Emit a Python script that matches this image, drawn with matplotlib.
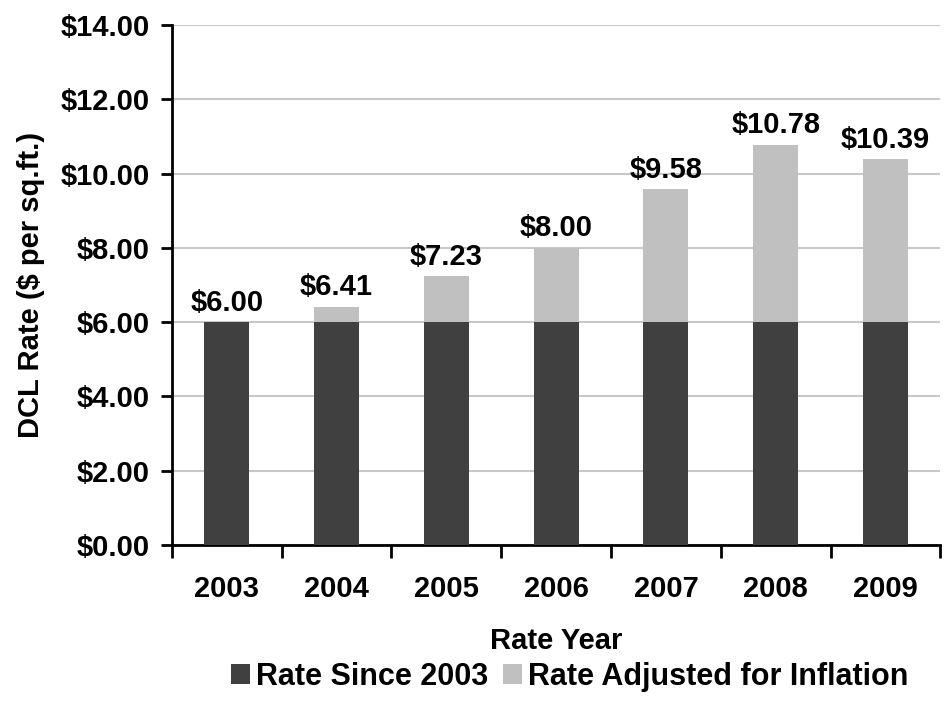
import matplotlib

matplotlib.use("Agg")
import matplotlib.pyplot as plt
import numpy as np

years = ["2003", "2004", "2005", "2006", "2007", "2008", "2009"]
base_rate = [6.00, 6.00, 6.00, 6.00, 6.00, 6.00, 6.00]
total_rate = [6.00, 6.41, 7.23, 8.00, 9.58, 10.78, 10.39]
inflation_add = [t - b for t, b in zip(total_rate, base_rate)]

DARK = "#404040"
LIGHT = "#c0c0c0"

plt.rcParams["font.family"] = ["Liberation Sans", "DejaVu Sans"]
plt.rcParams["font.weight"] = "bold"

fig = plt.figure(figsize=(9.45, 7.17), dpi=100)
ax = fig.add_axes([0.182, 0.240, 0.813, 0.725])

x = np.arange(len(years))
w = 0.41
ax.bar(x, base_rate, w, color=DARK, label="Rate Since 2003", zorder=3)
ax.bar(x, inflation_add, w, bottom=base_rate, color=LIGHT,
       label="Rate Adjusted for Inflation", zorder=3)

for xi, t in zip(x, total_rate):
    ax.annotate(f"${t:.2f}", (xi, t), xytext=(0, 4), textcoords="offset points",
                ha="center", va="bottom", fontsize=21, fontweight="bold")

ax.set_ylim(0, 14)
ax.set_yticks(np.arange(0, 14.01, 2))
ax.set_yticklabels([f"${v:.2f}" for v in np.arange(0, 14.01, 2)])
ax.set_xlim(-0.5, len(years) - 0.5)
ax.set_xticks(x)
ax.set_xticklabels(years)
ax.set_xticks(np.arange(-0.5, len(years)), minor=True)
ax.tick_params(axis="x", which="major", length=0, pad=22, labelsize=21)
ax.tick_params(axis="x", which="minor", length=9, width=2, direction="out")
ax.tick_params(axis="y", length=8, width=2, direction="out", pad=8, labelsize=21)

ax.grid(axis="y", color="#c8c8c8", lw=1.5, zorder=0)
for s in ["top", "right"]:
    ax.spines[s].set_visible(False)
ax.spines["left"].set_linewidth(2)
ax.spines["bottom"].set_linewidth(2)

ax.set_xlabel("Rate Year", fontsize=21, fontweight="bold", labelpad=17)
ax.set_ylabel("DCL Rate ($ per sq.ft.)", fontsize=21, fontweight="bold", labelpad=11)

fig.legend(loc="center", bbox_to_anchor=(0.603, 0.056), ncol=2, frameon=False,
           handlelength=0.62, handleheight=0.62, handletextpad=0.2,
           columnspacing=0.5, prop={"weight": "bold", "size": 22})

fig.savefig("out.png", dpi=100)
